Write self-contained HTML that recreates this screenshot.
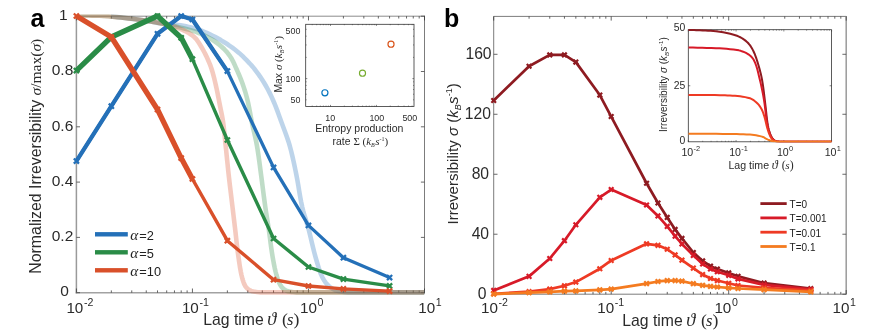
<!DOCTYPE html>
<html><head><meta charset="utf-8"><title>Irreversibility vs lag time</title>
<style>html,body{margin:0;padding:0;background:#fff}svg{display:block;will-change:transform}</style></head>
<body><svg width="873" height="333" viewBox="0 0 873 333">
<rect width="873" height="333" fill="#fff"/>
<g id="panelA">
<clipPath id="clipA"><rect x="76.40" y="14.40" width="348.10" height="280.50"/></clipPath>
<path d="M76.40 15.70 V293.40" stroke="#9a9a9a" stroke-width="1.5" fill="none"/>
<path d="M75.70 292.70 H424.80" stroke="#a2a2a2" stroke-width="1.4" fill="none"/>
<path d="M75.70 16.20 H424.80" stroke="#8c8c8c" stroke-width="1.0" fill="none"/>
<path d="M424.50 15.70 V293.40" stroke="#444" stroke-width="0.7" fill="none"/>
<path d="M76.40 292.70 v-4.20 M76.40 16.20 v4.20 M111.33 292.70 v-2.30 M111.33 16.20 v2.30 M131.76 292.70 v-2.30 M131.76 16.20 v2.30 M146.26 292.70 v-2.30 M146.26 16.20 v2.30 M157.50 292.70 v-2.30 M157.50 16.20 v2.30 M166.69 292.70 v-2.30 M166.69 16.20 v2.30 M174.46 292.70 v-2.30 M174.46 16.20 v2.30 M181.19 292.70 v-2.30 M181.19 16.20 v2.30 M187.12 292.70 v-2.30 M187.12 16.20 v2.30 M192.43 292.70 v-4.20 M192.43 16.20 v4.20 M227.36 292.70 v-2.30 M227.36 16.20 v2.30 M247.80 292.70 v-2.30 M247.80 16.20 v2.30 M262.29 292.70 v-2.30 M262.29 16.20 v2.30 M273.54 292.70 v-2.30 M273.54 16.20 v2.30 M282.72 292.70 v-2.30 M282.72 16.20 v2.30 M290.49 292.70 v-2.30 M290.49 16.20 v2.30 M297.22 292.70 v-2.30 M297.22 16.20 v2.30 M303.16 292.70 v-2.30 M303.16 16.20 v2.30 M308.47 292.70 v-4.20 M308.47 16.20 v4.20 M343.40 292.70 v-2.30 M343.40 16.20 v2.30 M363.83 292.70 v-2.30 M363.83 16.20 v2.30 M378.33 292.70 v-2.30 M378.33 16.20 v2.30 M389.57 292.70 v-2.30 M389.57 16.20 v2.30 M398.76 292.70 v-2.30 M398.76 16.20 v2.30 M406.53 292.70 v-2.30 M406.53 16.20 v2.30 M413.26 292.70 v-2.30 M413.26 16.20 v2.30 M419.19 292.70 v-2.30 M419.19 16.20 v2.30 M424.50 292.70 v-4.20 M424.50 16.20 v4.20 " stroke="#333" stroke-width="0.75" fill="none"/>
<path d="M76.40 292.70 h3.6 M424.50 292.70 h-3.6 M76.40 237.40 h3.6 M424.50 237.40 h-3.6 M76.40 182.10 h3.6 M424.50 182.10 h-3.6 M76.40 126.80 h3.6 M424.50 126.80 h-3.6 M76.40 71.50 h3.6 M424.50 71.50 h-3.6 M76.40 16.20 h3.6 M424.50 16.20 h-3.6 " stroke="#444" stroke-width="0.8" fill="none"/>
<g clip-path="url(#clipA)">
<path d="M111.00 16.20 L113.33 16.50 L115.67 16.80 L118.00 17.10 L120.33 17.40 L122.67 17.70 L125.00 18.00 L128.60 18.45 L132.21 18.90 L135.81 19.34 L139.41 19.79 L143.01 20.28 L146.60 20.80 L148.84 21.17 L151.07 21.60 L153.30 22.04 L155.53 22.47 L157.76 22.87 L160.00 23.20 L162.99 23.55 L165.99 23.83 L169.00 24.09 L172.01 24.35 L175.01 24.64 L178.00 25.00 L180.69 25.39 L183.38 25.84 L186.06 26.35 L188.73 26.92 L191.38 27.53 L194.00 28.20 L196.73 29.00 L199.43 29.93 L202.11 30.96 L204.77 32.06 L207.40 33.22 L210.00 34.40 L212.74 35.71 L215.46 37.10 L218.15 38.57 L220.81 40.10 L223.42 41.68 L226.00 43.30 L228.25 44.77 L230.47 46.30 L232.67 47.88 L234.83 49.51 L236.94 51.18 L239.00 52.90 L240.96 54.63 L242.88 56.43 L244.75 58.27 L246.60 60.16 L248.41 62.07 L250.20 64.00 L250.94 64.81 L251.68 65.63 L252.40 66.46 L253.12 67.29 L253.82 68.14 L254.50 69.00 L256.45 71.56 L258.37 74.17 L260.23 76.82 L262.02 79.51 L263.75 82.24 L265.40 85.00 L266.86 87.59 L268.27 90.22 L269.62 92.88 L270.93 95.57 L272.19 98.28 L273.40 101.00 L274.85 104.44 L276.23 107.92 L277.55 111.43 L278.85 114.95 L280.12 118.48 L281.40 122.00 L282.87 125.98 L284.37 129.95 L285.84 133.94 L287.26 137.93 L288.59 141.95 L289.80 146.00 L291.07 150.77 L292.25 155.59 L293.36 160.42 L294.40 165.28 L295.41 170.14 L296.40 175.00 L297.41 180.33 L298.33 185.68 L299.21 191.03 L300.11 196.38 L301.09 201.71 L302.20 207.00 L303.08 210.53 L304.08 214.03 L305.14 217.52 L306.23 221.00 L307.30 224.49 L308.30 228.00 L309.55 232.87 L310.73 237.77 L311.88 242.68 L313.04 247.58 L314.27 252.46 L315.60 257.30 L316.59 260.74 L317.58 264.21 L318.64 267.66 L319.78 271.06 L321.05 274.36 L322.50 277.50 L323.38 279.13 L324.39 280.78 L325.50 282.38 L326.69 283.90 L327.97 285.29 L329.30 286.50 L330.43 287.37 L331.66 288.22 L332.97 289.02 L334.33 289.72 L335.72 290.29 L337.10 290.70 L339.16 291.15 L341.28 291.55 L343.44 291.90 L345.63 292.16 L347.83 292.34 L350.00 292.40 L362.37 292.40 L374.77 292.40 L387.20 292.40 L399.64 292.40 L412.07 292.40 L424.50 292.40" fill="none" stroke="#2470B8" stroke-width="4.6" stroke-linejoin="round" stroke-linecap="butt" stroke-opacity="0.30"/>
<path d="M76.40 15.30 L80.33 15.38 L84.27 15.44 L88.21 15.51 L92.14 15.59 L96.07 15.68 L100.00 15.80 L104.17 16.00 L108.34 16.30 L112.51 16.68 L116.68 17.10 L120.84 17.55 L125.00 18.00 L128.61 18.40 L132.21 18.82 L135.82 19.28 L139.42 19.76 L143.01 20.27 L146.60 20.80 L148.84 21.16 L151.08 21.53 L153.31 21.93 L155.54 22.35 L157.77 22.77 L160.00 23.20 L163.01 23.79 L166.02 24.39 L169.02 25.01 L172.02 25.65 L175.01 26.31 L178.00 27.00 L180.69 27.63 L183.38 28.26 L186.07 28.92 L188.74 29.62 L191.39 30.38 L194.00 31.20 L196.75 32.17 L199.48 33.25 L202.19 34.42 L204.85 35.68 L207.46 37.01 L210.00 38.40 L212.30 39.77 L214.57 41.25 L216.80 42.82 L218.96 44.48 L221.03 46.21 L223.00 48.00 L224.47 49.46 L225.91 51.00 L227.30 52.61 L228.62 54.27 L229.86 55.97 L231.00 57.70 L232.04 59.48 L233.01 61.33 L233.93 63.22 L234.80 65.15 L235.65 67.08 L236.50 69.00 L237.66 71.63 L238.81 74.28 L239.93 76.93 L241.01 79.61 L242.04 82.29 L243.00 85.00 L243.88 87.63 L244.73 90.28 L245.54 92.94 L246.31 95.62 L247.03 98.31 L247.70 101.00 L248.47 104.47 L249.17 107.97 L249.83 111.47 L250.46 114.99 L251.11 118.50 L251.80 122.00 L252.66 126.00 L253.57 130.00 L254.50 133.99 L255.40 137.98 L256.25 141.98 L257.00 146.00 L257.79 150.81 L258.51 155.64 L259.18 160.47 L259.82 165.32 L260.45 170.16 L261.10 175.00 L261.81 180.33 L262.49 185.67 L263.17 191.01 L263.85 196.34 L264.56 201.67 L265.30 207.00 L265.82 210.50 L266.37 214.00 L266.94 217.50 L267.51 221.00 L268.06 224.50 L268.60 228.00 L269.29 232.88 L269.93 237.78 L270.55 242.68 L271.20 247.57 L271.90 252.44 L272.70 257.30 L273.34 260.91 L274.02 264.54 L274.76 268.16 L275.59 271.75 L276.52 275.27 L277.60 278.70 L278.20 280.36 L278.88 282.06 L279.65 283.75 L280.51 285.34 L281.46 286.78 L282.50 288.00 L283.27 288.69 L284.16 289.38 L285.15 290.01 L286.19 290.56 L287.25 291.00 L288.30 291.30 L289.84 291.60 L291.43 291.86 L293.06 292.08 L294.71 292.25 L296.36 292.36 L298.00 292.40 L319.02 292.40 L340.09 292.40 L361.19 292.40 L382.29 292.40 L403.40 292.40 L424.50 292.40" fill="none" stroke="#2A8C47" stroke-width="4.6" stroke-linejoin="round" stroke-linecap="butt" stroke-opacity="0.30"/>
<path d="M76.40 15.30 L80.33 15.38 L84.27 15.44 L88.21 15.51 L92.14 15.59 L96.07 15.68 L100.00 15.80 L104.17 16.00 L108.34 16.30 L112.51 16.68 L116.68 17.10 L120.84 17.55 L125.00 18.00 L128.61 18.40 L132.21 18.82 L135.82 19.28 L139.42 19.76 L143.01 20.27 L146.60 20.80 L148.84 21.15 L151.08 21.52 L153.32 21.90 L155.55 22.31 L157.78 22.74 L160.00 23.20 L163.04 23.86 L166.09 24.55 L169.13 25.30 L172.14 26.11 L175.11 27.01 L178.00 28.00 L180.83 29.10 L183.70 30.36 L186.52 31.77 L189.22 33.32 L191.74 35.00 L194.00 36.80 L195.53 38.33 L196.97 40.08 L198.32 41.99 L199.60 43.98 L200.82 46.01 L202.00 48.00 L203.20 50.09 L204.35 52.22 L205.45 54.39 L206.51 56.58 L207.52 58.78 L208.50 61.00 L209.06 62.31 L209.62 63.63 L210.15 64.96 L210.67 66.30 L211.15 67.65 L211.60 69.00 L212.55 72.15 L213.44 75.33 L214.26 78.53 L215.03 81.75 L215.78 84.98 L216.50 88.20 L217.08 90.87 L217.62 93.55 L218.15 96.24 L218.67 98.92 L219.18 101.61 L219.70 104.30 L220.29 107.25 L220.91 110.19 L221.52 113.14 L222.10 116.08 L222.64 119.04 L223.10 122.00 L223.62 125.98 L224.08 129.98 L224.50 133.98 L224.90 137.99 L225.29 142.00 L225.70 146.00 L226.20 150.83 L226.70 155.67 L227.18 160.50 L227.68 165.34 L228.18 170.17 L228.70 175.00 L229.30 180.34 L229.93 185.67 L230.57 191.00 L231.21 196.34 L231.86 201.67 L232.50 207.00 L232.92 210.50 L233.33 214.00 L233.75 217.50 L234.17 221.00 L234.58 224.50 L235.00 228.00 L235.57 232.89 L236.11 237.78 L236.65 242.67 L237.22 247.55 L237.83 252.43 L238.50 257.30 L239.02 260.90 L239.55 264.51 L240.13 268.12 L240.78 271.70 L241.53 275.24 L242.40 278.70 L242.86 280.26 L243.39 281.85 L243.99 283.44 L244.68 284.95 L245.45 286.32 L246.30 287.50 L247.04 288.28 L247.94 289.04 L248.94 289.75 L250.02 290.37 L251.12 290.87 L252.20 291.20 L253.74 291.52 L255.34 291.81 L256.99 292.05 L258.67 292.24 L260.34 292.36 L262.00 292.40 L288.99 292.40 L316.05 292.40 L343.15 292.40 L370.28 292.40 L397.40 292.40 L424.50 292.40" fill="none" stroke="#D9502A" stroke-width="4.6" stroke-linejoin="round" stroke-linecap="butt" stroke-opacity="0.30"/>
</g>
<path d="M76.40 161.10 L111.33 106.20 L157.50 33.80 L181.19 16.00 L192.43 19.50 L227.36 71.10 L273.54 167.40 L308.47 225.40 L343.40 257.70 L389.57 277.60" fill="none" stroke="#2470B8" stroke-width="3.3" stroke-linejoin="round" stroke-linecap="butt" />
<path d="M76.40 161.10 L111.33 106.20 L157.50 33.80 L181.19 16.00 L192.43 19.50 L227.36 71.10" fill="none" stroke="#2470B8" stroke-width="4.2" stroke-linejoin="round" stroke-linecap="butt" />
<path d="M73.85 158.55 L78.95 163.65 M73.85 163.65 L78.95 158.55" stroke="#2470B8" stroke-width="2.3" fill="none"/>
<path d="M108.78 103.65 L113.88 108.75 M108.78 108.75 L113.88 103.65" stroke="#2470B8" stroke-width="2.3" fill="none"/>
<path d="M154.95 31.25 L160.05 36.35 M154.95 36.35 L160.05 31.25" stroke="#2470B8" stroke-width="2.3" fill="none"/>
<path d="M178.64 13.45 L183.74 18.55 M178.64 18.55 L183.74 13.45" stroke="#2470B8" stroke-width="2.3" fill="none"/>
<path d="M189.88 16.95 L194.98 22.05 M189.88 22.05 L194.98 16.95" stroke="#2470B8" stroke-width="2.3" fill="none"/>
<path d="M224.81 68.55 L229.91 73.65 M224.81 73.65 L229.91 68.55" stroke="#2470B8" stroke-width="2.3" fill="none"/>
<path d="M270.99 164.85 L276.09 169.95 M270.99 169.95 L276.09 164.85" stroke="#2470B8" stroke-width="2.3" fill="none"/>
<path d="M305.92 222.85 L311.02 227.95 M305.92 227.95 L311.02 222.85" stroke="#2470B8" stroke-width="2.3" fill="none"/>
<path d="M340.85 255.15 L345.95 260.25 M340.85 260.25 L345.95 255.15" stroke="#2470B8" stroke-width="2.3" fill="none"/>
<path d="M387.02 275.05 L392.12 280.15 M387.02 280.15 L392.12 275.05" stroke="#2470B8" stroke-width="2.3" fill="none"/>
<path d="M76.40 70.60 L111.33 37.00 L157.50 16.00 L181.19 37.80 L192.43 59.20 L227.36 140.00 L273.54 238.50 L308.47 267.00 L343.40 279.10 L389.57 285.90" fill="none" stroke="#2A8C47" stroke-width="3.4" stroke-linejoin="round" stroke-linecap="butt" />
<path d="M76.40 70.60 L111.33 37.00 L157.50 16.00 L181.19 37.80 L192.43 59.20" fill="none" stroke="#2A8C47" stroke-width="5.3" stroke-linejoin="round" stroke-linecap="butt" />
<path d="M73.85 68.05 L78.95 73.15 M73.85 73.15 L78.95 68.05" stroke="#2A8C47" stroke-width="2.3" fill="none"/>
<path d="M108.78 34.45 L113.88 39.55 M108.78 39.55 L113.88 34.45" stroke="#2A8C47" stroke-width="2.3" fill="none"/>
<path d="M154.95 13.45 L160.05 18.55 M154.95 18.55 L160.05 13.45" stroke="#2A8C47" stroke-width="2.3" fill="none"/>
<path d="M178.64 35.25 L183.74 40.35 M178.64 40.35 L183.74 35.25" stroke="#2A8C47" stroke-width="2.3" fill="none"/>
<path d="M189.88 56.65 L194.98 61.75 M189.88 61.75 L194.98 56.65" stroke="#2A8C47" stroke-width="2.3" fill="none"/>
<path d="M224.81 137.45 L229.91 142.55 M224.81 142.55 L229.91 137.45" stroke="#2A8C47" stroke-width="2.3" fill="none"/>
<path d="M270.99 235.95 L276.09 241.05 M270.99 241.05 L276.09 235.95" stroke="#2A8C47" stroke-width="2.3" fill="none"/>
<path d="M305.92 264.45 L311.02 269.55 M305.92 269.55 L311.02 264.45" stroke="#2A8C47" stroke-width="2.3" fill="none"/>
<path d="M340.85 276.55 L345.95 281.65 M340.85 281.65 L345.95 276.55" stroke="#2A8C47" stroke-width="2.3" fill="none"/>
<path d="M387.02 283.35 L392.12 288.45 M387.02 288.45 L392.12 283.35" stroke="#2A8C47" stroke-width="2.3" fill="none"/>
<path d="M76.40 16.00 L111.33 37.00 L157.50 109.50 L181.19 158.10 L192.43 179.00 L227.36 240.70 L273.54 279.70 L308.47 286.00 L343.40 288.90 L389.57 291.10" fill="none" stroke="#D9502A" stroke-width="3.4" stroke-linejoin="round" stroke-linecap="butt" />
<path d="M76.40 16.00 L111.33 37.00 L157.50 109.50 L181.19 158.10 L192.43 179.00" fill="none" stroke="#D9502A" stroke-width="5.3" stroke-linejoin="round" stroke-linecap="butt" />
<path d="M73.85 13.45 L78.95 18.55 M73.85 18.55 L78.95 13.45" stroke="#D9502A" stroke-width="2.3" fill="none"/>
<path d="M108.78 34.45 L113.88 39.55 M108.78 39.55 L113.88 34.45" stroke="#D9502A" stroke-width="2.3" fill="none"/>
<path d="M154.95 106.95 L160.05 112.05 M154.95 112.05 L160.05 106.95" stroke="#D9502A" stroke-width="2.3" fill="none"/>
<path d="M178.64 155.55 L183.74 160.65 M178.64 160.65 L183.74 155.55" stroke="#D9502A" stroke-width="2.3" fill="none"/>
<path d="M189.88 176.45 L194.98 181.55 M189.88 181.55 L194.98 176.45" stroke="#D9502A" stroke-width="2.3" fill="none"/>
<path d="M224.81 238.15 L229.91 243.25 M224.81 243.25 L229.91 238.15" stroke="#D9502A" stroke-width="2.3" fill="none"/>
<path d="M270.99 277.15 L276.09 282.25 M270.99 282.25 L276.09 277.15" stroke="#D9502A" stroke-width="2.3" fill="none"/>
<path d="M305.92 283.45 L311.02 288.55 M305.92 288.55 L311.02 283.45" stroke="#D9502A" stroke-width="2.3" fill="none"/>
<path d="M340.85 286.35 L345.95 291.45 M340.85 291.45 L345.95 286.35" stroke="#D9502A" stroke-width="2.3" fill="none"/>
<path d="M387.02 288.55 L392.12 293.65 M387.02 293.65 L392.12 288.55" stroke="#D9502A" stroke-width="2.3" fill="none"/>
<rect x="95" y="232.10" width="32.8" height="4.4" fill="#2470B8"/>
<text x="130.2" y="239.50" font-size="12.8" fill="#222" font-family='"Liberation Sans", Arial, sans-serif'><tspan font-family='"Liberation Serif", "Times New Roman", serif' font-style="italic" font-size="15.2">α</tspan><tspan x="139.3">=2</tspan></text>
<rect x="95" y="250.10" width="32.8" height="4.4" fill="#2A8C47"/>
<text x="130.2" y="257.50" font-size="12.8" fill="#222" font-family='"Liberation Sans", Arial, sans-serif'><tspan font-family='"Liberation Serif", "Times New Roman", serif' font-style="italic" font-size="15.2">α</tspan><tspan x="139.3">=5</tspan></text>
<rect x="95" y="268.10" width="32.8" height="4.4" fill="#D9502A"/>
<text x="130.2" y="275.50" font-size="12.8" fill="#222" font-family='"Liberation Sans", Arial, sans-serif'><tspan font-family='"Liberation Serif", "Times New Roman", serif' font-style="italic" font-size="15.2">α</tspan><tspan x="139.3">=10</tspan></text>
<text x="68.90" y="296.40" text-anchor="end" font-size="15.5" fill="#2b2b2b" font-family='"Liberation Sans", Arial, sans-serif'>0</text>
<text x="73.30" y="241.10" text-anchor="end" font-size="15.5" fill="#2b2b2b" font-family='"Liberation Sans", Arial, sans-serif'>0.2</text>
<text x="73.30" y="185.80" text-anchor="end" font-size="15.5" fill="#2b2b2b" font-family='"Liberation Sans", Arial, sans-serif'>0.4</text>
<text x="73.30" y="130.50" text-anchor="end" font-size="15.5" fill="#2b2b2b" font-family='"Liberation Sans", Arial, sans-serif'>0.6</text>
<text x="73.30" y="75.20" text-anchor="end" font-size="15.5" fill="#2b2b2b" font-family='"Liberation Sans", Arial, sans-serif'>0.8</text>
<text x="67.60" y="19.90" text-anchor="end" font-size="15.5" fill="#2b2b2b" font-family='"Liberation Sans", Arial, sans-serif'>1</text>
<text x="66.40" y="312.5" font-size="15.2" fill="#2b2b2b" font-family='"Liberation Sans", Arial, sans-serif'>10<tspan dy="-6.6" dx="0.6" font-size="10.6">-2</tspan></text>
<text x="181.90" y="312.5" font-size="15.2" fill="#2b2b2b" font-family='"Liberation Sans", Arial, sans-serif'>10<tspan dy="-6.6" dx="0.6" font-size="10.6">-1</tspan></text>
<text x="300.00" y="312.5" font-size="15.2" fill="#2b2b2b" font-family='"Liberation Sans", Arial, sans-serif'>10<tspan dy="-6.6" dx="0.6" font-size="10.6">0</tspan></text>
<text x="418.30" y="312.5" font-size="15.2" fill="#2b2b2b" font-family='"Liberation Sans", Arial, sans-serif'>10<tspan dy="-6.6" dx="0.6" font-size="10.6">1</tspan></text>
<text x="203.30" y="325.10" font-size="15.75" fill="#2b2b2b" font-family='"Liberation Sans", Arial, sans-serif'>Lag time<tspan x="267.20" font-family='"Liberation Serif", "Times New Roman", serif' font-style="italic" font-size="18.43">ϑ</tspan><tspan x="281.90" font-family='"Liberation Serif", "Times New Roman", serif' font-size="17.64">(</tspan><tspan x="287.10" font-family='"Liberation Serif", "Times New Roman", serif' font-style="italic" font-size="16.54">s</tspan><tspan x="293.50" font-family='"Liberation Serif", "Times New Roman", serif' font-size="17.64">)</tspan></text>
<text transform="translate(41.4 273.8) rotate(-90)" font-size="15.9" fill="#2b2b2b" font-family='"Liberation Sans", Arial, sans-serif'>Normalized Irreversibility <tspan font-family='"Liberation Serif", "Times New Roman", serif' font-size="15.5"><tspan font-style="italic">σ</tspan>/max(<tspan font-style="italic">σ</tspan>)</tspan></text>
<text x="30.6" y="26.7" font-size="25" font-weight="bold" fill="#000" font-family='"Liberation Sans", Arial, sans-serif'>a</text>
<rect x="305.70" y="24.30" width="108.30" height="82.20" fill="#fff" stroke="#333" stroke-width="0.8"/>
<path d="M312.23 106.50 v-0.90 M312.23 24.30 v0.90 M316.68 106.50 v-0.90 M316.68 24.30 v0.90 M320.32 106.50 v-0.90 M320.32 24.30 v0.90 M323.39 106.50 v-0.90 M323.39 24.30 v0.90 M326.05 106.50 v-0.90 M326.05 24.30 v0.90 M328.40 106.50 v-0.90 M328.40 24.30 v0.90 M330.50 106.50 v-1.60 M330.50 24.30 v1.60 M344.32 106.50 v-0.90 M344.32 24.30 v0.90 M352.40 106.50 v-0.90 M352.40 24.30 v0.90 M358.13 106.50 v-0.90 M358.13 24.30 v0.90 M362.58 106.50 v-0.90 M362.58 24.30 v0.90 M366.22 106.50 v-0.90 M366.22 24.30 v0.90 M369.29 106.50 v-0.90 M369.29 24.30 v0.90 M371.95 106.50 v-0.90 M371.95 24.30 v0.90 M374.30 106.50 v-0.90 M374.30 24.30 v0.90 M376.40 106.50 v-1.60 M376.40 24.30 v1.60 M390.22 106.50 v-0.90 M390.22 24.30 v0.90 M398.30 106.50 v-0.90 M398.30 24.30 v0.90 M404.03 106.50 v-0.90 M404.03 24.30 v0.90 M408.48 106.50 v-0.90 M408.48 24.30 v0.90 M412.12 106.50 v-0.90 M412.12 24.30 v0.90 M305.70 99.82 h0.90 M414.00 99.82 h-0.90 M305.70 94.24 h0.90 M414.00 94.24 h-0.90 M305.70 89.52 h0.90 M414.00 89.52 h-0.90 M305.70 85.43 h0.90 M414.00 85.43 h-0.90 M305.70 81.83 h0.90 M414.00 81.83 h-0.90 M305.70 78.60 h1.60 M414.00 78.60 h-1.60 M305.70 57.38 h0.90 M414.00 57.38 h-0.90 M305.70 44.96 h0.90 M414.00 44.96 h-0.90 M305.70 36.15 h0.90 M414.00 36.15 h-0.90 M305.70 29.32 h0.90 M414.00 29.32 h-0.90 " stroke="#333" stroke-width="0.6" fill="none"/>
<text x="300.4" y="103.40" text-anchor="end" font-size="8.9" fill="#2b2b2b" font-family='"Liberation Sans", Arial, sans-serif'>50</text>
<text x="300.4" y="82.00" text-anchor="end" font-size="8.9" fill="#2b2b2b" font-family='"Liberation Sans", Arial, sans-serif'>100</text>
<text x="300.4" y="34.00" text-anchor="end" font-size="8.9" fill="#2b2b2b" font-family='"Liberation Sans", Arial, sans-serif'>500</text>
<text x="330.20" y="120.6" text-anchor="middle" font-size="8.9" fill="#2b2b2b" font-family='"Liberation Sans", Arial, sans-serif'>10</text>
<text x="376.80" y="120.6" text-anchor="middle" font-size="8.9" fill="#2b2b2b" font-family='"Liberation Sans", Arial, sans-serif'>100</text>
<text x="409.80" y="120.6" text-anchor="middle" font-size="8.9" fill="#2b2b2b" font-family='"Liberation Sans", Arial, sans-serif'>500</text>
<text x="359.3" y="131.8" text-anchor="middle" font-size="10.5" fill="#2b2b2b" font-family='"Liberation Sans", Arial, sans-serif'>Entropy production</text>
<text x="332.6" y="144.6" font-size="10.4" fill="#2b2b2b" font-family='"Liberation Sans", Arial, sans-serif'>rate <tspan font-family='"Liberation Serif", "Times New Roman", serif' font-size="11">Σ (<tspan font-style="italic">k</tspan><tspan font-style="italic" font-size="6" dy="2">B</tspan><tspan font-style="italic" dy="-2" dx="0.5">s</tspan><tspan font-size="6" dy="-4">-1</tspan><tspan dy="4">)</tspan></tspan></text>
<text transform="translate(282.4 92.6) rotate(-90)" font-size="10.4" fill="#2b2b2b" font-family='"Liberation Sans", Arial, sans-serif'>Max <tspan font-family='"Liberation Serif", "Times New Roman", serif' font-size="11"><tspan font-style="italic">σ</tspan> (<tspan font-style="italic">k</tspan><tspan font-style="italic" font-size="6" dy="2">B</tspan><tspan font-style="italic" dy="-2" dx="0.5">s</tspan><tspan font-size="6" dy="-4">-1</tspan><tspan dy="4">)</tspan></tspan></text>
<circle cx="324.90" cy="92.80" r="3.05" fill="none" stroke="#0072BD" stroke-width="1.15"/>
<circle cx="362.50" cy="73.20" r="3.05" fill="none" stroke="#77AC30" stroke-width="1.15"/>
<circle cx="391.00" cy="44.20" r="3.05" fill="none" stroke="#D95319" stroke-width="1.15"/>
</g>
<g id="panelB">
<path d="M846.20 16.40 H493.70 V294.20 H846.20" stroke="#444" stroke-width="0.7" fill="none"/>
<path d="M846.20 16.00 V294.60" stroke="#9a9a9a" stroke-width="1.5" fill="none"/>
<path d="M493.70 294.20 v-4.20 M493.70 16.40 v4.20 M529.07 294.20 v-2.30 M529.07 16.40 v2.30 M549.76 294.20 v-2.30 M549.76 16.40 v2.30 M564.44 294.20 v-2.30 M564.44 16.40 v2.30 M575.83 294.20 v-2.30 M575.83 16.40 v2.30 M585.13 294.20 v-2.30 M585.13 16.40 v2.30 M593.00 294.20 v-2.30 M593.00 16.40 v2.30 M599.81 294.20 v-2.30 M599.81 16.40 v2.30 M605.82 294.20 v-2.30 M605.82 16.40 v2.30 M611.20 294.20 v-4.20 M611.20 16.40 v4.20 M646.57 294.20 v-2.30 M646.57 16.40 v2.30 M667.26 294.20 v-2.30 M667.26 16.40 v2.30 M681.94 294.20 v-2.30 M681.94 16.40 v2.30 M693.33 294.20 v-2.30 M693.33 16.40 v2.30 M702.63 294.20 v-2.30 M702.63 16.40 v2.30 M710.50 294.20 v-2.30 M710.50 16.40 v2.30 M717.31 294.20 v-2.30 M717.31 16.40 v2.30 M723.32 294.20 v-2.30 M723.32 16.40 v2.30 M728.70 294.20 v-4.20 M728.70 16.40 v4.20 M764.07 294.20 v-2.30 M764.07 16.40 v2.30 M784.76 294.20 v-2.30 M784.76 16.40 v2.30 M799.44 294.20 v-2.30 M799.44 16.40 v2.30 M810.83 294.20 v-2.30 M810.83 16.40 v2.30 M820.13 294.20 v-2.30 M820.13 16.40 v2.30 M828.00 294.20 v-2.30 M828.00 16.40 v2.30 M834.81 294.20 v-2.30 M834.81 16.40 v2.30 M840.82 294.20 v-2.30 M840.82 16.40 v2.30 M846.20 294.20 v-4.20 M846.20 16.40 v4.20 " stroke="#333" stroke-width="0.75" fill="none"/>
<path d="M493.70 294.20 h3.8 M846.20 294.20 h-3.8 M493.70 234.22 h3.8 M846.20 234.22 h-3.8 M493.70 174.25 h3.8 M846.20 174.25 h-3.8 M493.70 114.27 h3.8 M846.20 114.27 h-3.8 M493.70 54.30 h3.8 M846.20 54.30 h-3.8 " stroke="#444" stroke-width="0.8" fill="none"/>
<path d="M493.70 100.48 L529.07 66.29 L549.76 54.90 L564.44 54.90 L575.83 62.10 L599.81 95.08 L611.20 116.52 L646.57 183.25 L657.96 203.04 L667.26 217.43 L675.13 229.43 L681.94 238.42 L693.33 252.52 L702.63 260.91 L710.50 266.16 L717.31 269.01 L728.70 272.91 L738.00 276.21 L764.07 283.10 L810.83 288.65" fill="none" stroke="#8E1B21" stroke-width="2.7" stroke-linejoin="round" stroke-linecap="butt" />
<path d="M491.40 98.18 L496.00 102.78 M491.40 102.78 L496.00 98.18" stroke="#8E1B21" stroke-width="2.2" fill="none"/>
<path d="M526.77 63.99 L531.37 68.59 M526.77 68.59 L531.37 63.99" stroke="#8E1B21" stroke-width="2.2" fill="none"/>
<path d="M547.46 52.60 L552.06 57.20 M547.46 57.20 L552.06 52.60" stroke="#8E1B21" stroke-width="2.2" fill="none"/>
<path d="M562.14 52.60 L566.74 57.20 M562.14 57.20 L566.74 52.60" stroke="#8E1B21" stroke-width="2.2" fill="none"/>
<path d="M573.53 59.80 L578.13 64.40 M573.53 64.40 L578.13 59.80" stroke="#8E1B21" stroke-width="2.2" fill="none"/>
<path d="M597.51 92.78 L602.11 97.38 M597.51 97.38 L602.11 92.78" stroke="#8E1B21" stroke-width="2.2" fill="none"/>
<path d="M608.90 114.22 L613.50 118.82 M608.90 118.82 L613.50 114.22" stroke="#8E1B21" stroke-width="2.2" fill="none"/>
<path d="M644.27 180.95 L648.87 185.55 M644.27 185.55 L648.87 180.95" stroke="#8E1B21" stroke-width="2.2" fill="none"/>
<path d="M655.66 200.74 L660.26 205.34 M655.66 205.34 L660.26 200.74" stroke="#8E1B21" stroke-width="2.2" fill="none"/>
<path d="M664.96 215.13 L669.56 219.73 M664.96 219.73 L669.56 215.13" stroke="#8E1B21" stroke-width="2.2" fill="none"/>
<path d="M672.83 227.13 L677.43 231.73 M672.83 231.73 L677.43 227.13" stroke="#8E1B21" stroke-width="2.2" fill="none"/>
<path d="M679.64 236.12 L684.24 240.72 M679.64 240.72 L684.24 236.12" stroke="#8E1B21" stroke-width="2.2" fill="none"/>
<path d="M691.03 250.22 L695.63 254.82 M691.03 254.82 L695.63 250.22" stroke="#8E1B21" stroke-width="2.2" fill="none"/>
<path d="M700.33 258.61 L704.93 263.21 M700.33 263.21 L704.93 258.61" stroke="#8E1B21" stroke-width="2.2" fill="none"/>
<path d="M708.20 263.86 L712.80 268.46 M708.20 268.46 L712.80 263.86" stroke="#8E1B21" stroke-width="2.2" fill="none"/>
<path d="M715.01 266.71 L719.61 271.31 M715.01 271.31 L719.61 266.71" stroke="#8E1B21" stroke-width="2.2" fill="none"/>
<path d="M726.40 270.61 L731.00 275.21 M726.40 275.21 L731.00 270.61" stroke="#8E1B21" stroke-width="2.2" fill="none"/>
<path d="M735.70 273.91 L740.30 278.51 M735.70 278.51 L740.30 273.91" stroke="#8E1B21" stroke-width="2.2" fill="none"/>
<path d="M761.77 280.80 L766.37 285.40 M761.77 285.40 L766.37 280.80" stroke="#8E1B21" stroke-width="2.2" fill="none"/>
<path d="M808.53 286.35 L813.13 290.95 M808.53 290.95 L813.13 286.35" stroke="#8E1B21" stroke-width="2.2" fill="none"/>
<path d="M493.70 290.45 L529.07 276.36 L549.76 258.51 L564.44 240.67 L575.83 224.78 L599.81 197.34 L611.20 189.54 L646.57 204.99 L657.96 215.93 L667.26 226.43 L675.13 236.17 L681.94 243.97 L693.33 255.37 L702.63 263.91 L710.50 269.01 L717.31 271.71 L728.70 275.31 L738.00 278.91 L764.07 284.90 L810.83 289.40" fill="none" stroke="#D71A28" stroke-width="2.7" stroke-linejoin="round" stroke-linecap="butt" />
<path d="M491.40 288.15 L496.00 292.75 M491.40 292.75 L496.00 288.15" stroke="#D71A28" stroke-width="2.2" fill="none"/>
<path d="M526.77 274.06 L531.37 278.66 M526.77 278.66 L531.37 274.06" stroke="#D71A28" stroke-width="2.2" fill="none"/>
<path d="M547.46 256.21 L552.06 260.81 M547.46 260.81 L552.06 256.21" stroke="#D71A28" stroke-width="2.2" fill="none"/>
<path d="M562.14 238.37 L566.74 242.97 M562.14 242.97 L566.74 238.37" stroke="#D71A28" stroke-width="2.2" fill="none"/>
<path d="M573.53 222.48 L578.13 227.08 M573.53 227.08 L578.13 222.48" stroke="#D71A28" stroke-width="2.2" fill="none"/>
<path d="M597.51 195.04 L602.11 199.64 M597.51 199.64 L602.11 195.04" stroke="#D71A28" stroke-width="2.2" fill="none"/>
<path d="M608.90 187.24 L613.50 191.84 M608.90 191.84 L613.50 187.24" stroke="#D71A28" stroke-width="2.2" fill="none"/>
<path d="M644.27 202.69 L648.87 207.29 M644.27 207.29 L648.87 202.69" stroke="#D71A28" stroke-width="2.2" fill="none"/>
<path d="M655.66 213.63 L660.26 218.23 M655.66 218.23 L660.26 213.63" stroke="#D71A28" stroke-width="2.2" fill="none"/>
<path d="M664.96 224.13 L669.56 228.73 M664.96 228.73 L669.56 224.13" stroke="#D71A28" stroke-width="2.2" fill="none"/>
<path d="M672.83 233.87 L677.43 238.47 M672.83 238.47 L677.43 233.87" stroke="#D71A28" stroke-width="2.2" fill="none"/>
<path d="M679.64 241.67 L684.24 246.27 M679.64 246.27 L684.24 241.67" stroke="#D71A28" stroke-width="2.2" fill="none"/>
<path d="M691.03 253.07 L695.63 257.67 M691.03 257.67 L695.63 253.07" stroke="#D71A28" stroke-width="2.2" fill="none"/>
<path d="M700.33 261.61 L704.93 266.21 M700.33 266.21 L704.93 261.61" stroke="#D71A28" stroke-width="2.2" fill="none"/>
<path d="M708.20 266.71 L712.80 271.31 M708.20 271.31 L712.80 266.71" stroke="#D71A28" stroke-width="2.2" fill="none"/>
<path d="M715.01 269.41 L719.61 274.01 M715.01 274.01 L719.61 269.41" stroke="#D71A28" stroke-width="2.2" fill="none"/>
<path d="M726.40 273.01 L731.00 277.61 M726.40 277.61 L731.00 273.01" stroke="#D71A28" stroke-width="2.2" fill="none"/>
<path d="M735.70 276.61 L740.30 281.21 M735.70 281.21 L740.30 276.61" stroke="#D71A28" stroke-width="2.2" fill="none"/>
<path d="M761.77 282.60 L766.37 287.20 M761.77 287.20 L766.37 282.60" stroke="#D71A28" stroke-width="2.2" fill="none"/>
<path d="M808.53 287.10 L813.13 291.70 M808.53 291.70 L813.13 287.10" stroke="#D71A28" stroke-width="2.2" fill="none"/>
<path d="M493.70 293.75 L529.07 291.65 L549.76 289.10 L564.44 285.80 L575.83 282.06 L599.81 268.71 L611.20 260.46 L646.57 243.82 L657.96 245.32 L667.26 249.22 L675.13 254.92 L681.94 260.16 L693.33 268.11 L702.63 274.56 L710.50 278.46 L717.31 280.56 L728.70 283.25 L738.00 285.50 L764.07 287.75 L810.83 290.45" fill="none" stroke="#EE3A24" stroke-width="2.7" stroke-linejoin="round" stroke-linecap="butt" />
<path d="M491.40 291.45 L496.00 296.05 M491.40 296.05 L496.00 291.45" stroke="#EE3A24" stroke-width="2.2" fill="none"/>
<path d="M526.77 289.35 L531.37 293.95 M526.77 293.95 L531.37 289.35" stroke="#EE3A24" stroke-width="2.2" fill="none"/>
<path d="M547.46 286.80 L552.06 291.40 M547.46 291.40 L552.06 286.80" stroke="#EE3A24" stroke-width="2.2" fill="none"/>
<path d="M562.14 283.50 L566.74 288.10 M562.14 288.10 L566.74 283.50" stroke="#EE3A24" stroke-width="2.2" fill="none"/>
<path d="M573.53 279.76 L578.13 284.36 M573.53 284.36 L578.13 279.76" stroke="#EE3A24" stroke-width="2.2" fill="none"/>
<path d="M597.51 266.41 L602.11 271.01 M597.51 271.01 L602.11 266.41" stroke="#EE3A24" stroke-width="2.2" fill="none"/>
<path d="M608.90 258.16 L613.50 262.76 M608.90 262.76 L613.50 258.16" stroke="#EE3A24" stroke-width="2.2" fill="none"/>
<path d="M644.27 241.52 L648.87 246.12 M644.27 246.12 L648.87 241.52" stroke="#EE3A24" stroke-width="2.2" fill="none"/>
<path d="M655.66 243.02 L660.26 247.62 M655.66 247.62 L660.26 243.02" stroke="#EE3A24" stroke-width="2.2" fill="none"/>
<path d="M664.96 246.92 L669.56 251.52 M664.96 251.52 L669.56 246.92" stroke="#EE3A24" stroke-width="2.2" fill="none"/>
<path d="M672.83 252.62 L677.43 257.22 M672.83 257.22 L677.43 252.62" stroke="#EE3A24" stroke-width="2.2" fill="none"/>
<path d="M679.64 257.86 L684.24 262.46 M679.64 262.46 L684.24 257.86" stroke="#EE3A24" stroke-width="2.2" fill="none"/>
<path d="M691.03 265.81 L695.63 270.41 M691.03 270.41 L695.63 265.81" stroke="#EE3A24" stroke-width="2.2" fill="none"/>
<path d="M700.33 272.26 L704.93 276.86 M700.33 276.86 L704.93 272.26" stroke="#EE3A24" stroke-width="2.2" fill="none"/>
<path d="M708.20 276.16 L712.80 280.76 M708.20 280.76 L712.80 276.16" stroke="#EE3A24" stroke-width="2.2" fill="none"/>
<path d="M715.01 278.26 L719.61 282.86 M715.01 282.86 L719.61 278.26" stroke="#EE3A24" stroke-width="2.2" fill="none"/>
<path d="M726.40 280.95 L731.00 285.55 M726.40 285.55 L731.00 280.95" stroke="#EE3A24" stroke-width="2.2" fill="none"/>
<path d="M735.70 283.20 L740.30 287.80 M735.70 287.80 L740.30 283.20" stroke="#EE3A24" stroke-width="2.2" fill="none"/>
<path d="M761.77 285.45 L766.37 290.05 M761.77 290.05 L766.37 285.45" stroke="#EE3A24" stroke-width="2.2" fill="none"/>
<path d="M808.53 288.15 L813.13 292.75 M808.53 292.75 L813.13 288.15" stroke="#EE3A24" stroke-width="2.2" fill="none"/>
<path d="M493.70 294.05 L529.07 292.70 L549.76 291.80 L564.44 291.20 L575.83 290.90 L599.81 289.85 L611.20 289.10 L646.57 283.55 L657.96 281.46 L667.26 280.56 L675.13 280.56 L681.94 281.16 L693.33 283.70 L702.63 285.35 L710.50 286.40 L717.31 287.00 L728.70 287.90 L738.00 288.50 L764.07 289.70 L810.83 291.80" fill="none" stroke="#F47B20" stroke-width="2.7" stroke-linejoin="round" stroke-linecap="butt" />
<path d="M491.40 291.75 L496.00 296.35 M491.40 296.35 L496.00 291.75" stroke="#F47B20" stroke-width="2.2" fill="none"/>
<path d="M526.77 290.40 L531.37 295.00 M526.77 295.00 L531.37 290.40" stroke="#F47B20" stroke-width="2.2" fill="none"/>
<path d="M547.46 289.50 L552.06 294.10 M547.46 294.10 L552.06 289.50" stroke="#F47B20" stroke-width="2.2" fill="none"/>
<path d="M562.14 288.90 L566.74 293.50 M562.14 293.50 L566.74 288.90" stroke="#F47B20" stroke-width="2.2" fill="none"/>
<path d="M573.53 288.60 L578.13 293.20 M573.53 293.20 L578.13 288.60" stroke="#F47B20" stroke-width="2.2" fill="none"/>
<path d="M597.51 287.55 L602.11 292.15 M597.51 292.15 L602.11 287.55" stroke="#F47B20" stroke-width="2.2" fill="none"/>
<path d="M608.90 286.80 L613.50 291.40 M608.90 291.40 L613.50 286.80" stroke="#F47B20" stroke-width="2.2" fill="none"/>
<path d="M644.27 281.25 L648.87 285.85 M644.27 285.85 L648.87 281.25" stroke="#F47B20" stroke-width="2.2" fill="none"/>
<path d="M655.66 279.16 L660.26 283.76 M655.66 283.76 L660.26 279.16" stroke="#F47B20" stroke-width="2.2" fill="none"/>
<path d="M664.96 278.26 L669.56 282.86 M664.96 282.86 L669.56 278.26" stroke="#F47B20" stroke-width="2.2" fill="none"/>
<path d="M672.83 278.26 L677.43 282.86 M672.83 282.86 L677.43 278.26" stroke="#F47B20" stroke-width="2.2" fill="none"/>
<path d="M679.64 278.86 L684.24 283.46 M679.64 283.46 L684.24 278.86" stroke="#F47B20" stroke-width="2.2" fill="none"/>
<path d="M691.03 281.40 L695.63 286.00 M691.03 286.00 L695.63 281.40" stroke="#F47B20" stroke-width="2.2" fill="none"/>
<path d="M700.33 283.05 L704.93 287.65 M700.33 287.65 L704.93 283.05" stroke="#F47B20" stroke-width="2.2" fill="none"/>
<path d="M708.20 284.10 L712.80 288.70 M708.20 288.70 L712.80 284.10" stroke="#F47B20" stroke-width="2.2" fill="none"/>
<path d="M715.01 284.70 L719.61 289.30 M715.01 289.30 L719.61 284.70" stroke="#F47B20" stroke-width="2.2" fill="none"/>
<path d="M726.40 285.60 L731.00 290.20 M726.40 290.20 L731.00 285.60" stroke="#F47B20" stroke-width="2.2" fill="none"/>
<path d="M735.70 286.20 L740.30 290.80 M735.70 290.80 L740.30 286.20" stroke="#F47B20" stroke-width="2.2" fill="none"/>
<path d="M761.77 287.40 L766.37 292.00 M761.77 292.00 L766.37 287.40" stroke="#F47B20" stroke-width="2.2" fill="none"/>
<path d="M808.53 289.50 L813.13 294.10 M808.53 294.10 L813.13 289.50" stroke="#F47B20" stroke-width="2.2" fill="none"/>
<rect x="760.4" y="202.20" width="26.3" height="2.8" fill="#8E1B21"/>
<text x="789.6" y="208.10" font-size="10" fill="#222" font-family='"Liberation Sans", Arial, sans-serif'>T=0</text>
<rect x="760.4" y="216.50" width="26.3" height="2.8" fill="#D71A28"/>
<text x="789.6" y="222.40" font-size="10" fill="#222" font-family='"Liberation Sans", Arial, sans-serif'>T=0.001</text>
<rect x="760.4" y="230.80" width="26.3" height="2.8" fill="#EE3A24"/>
<text x="789.6" y="236.70" font-size="10" fill="#222" font-family='"Liberation Sans", Arial, sans-serif'>T=0.01</text>
<rect x="760.4" y="245.10" width="26.3" height="2.8" fill="#F47B20"/>
<text x="789.6" y="251.00" font-size="10" fill="#222" font-family='"Liberation Sans", Arial, sans-serif'>T=0.1</text>
<text x="486.50" y="298.80" text-anchor="end" font-size="15.7" fill="#2b2b2b" font-family='"Liberation Sans", Arial, sans-serif'>0</text>
<text x="489.10" y="238.82" text-anchor="end" font-size="15.7" fill="#2b2b2b" font-family='"Liberation Sans", Arial, sans-serif'>40</text>
<text x="489.10" y="178.85" text-anchor="end" font-size="15.7" fill="#2b2b2b" font-family='"Liberation Sans", Arial, sans-serif'>80</text>
<text x="491.00" y="118.87" text-anchor="end" font-size="15.7" fill="#2b2b2b" font-family='"Liberation Sans", Arial, sans-serif'>120</text>
<text x="491.60" y="58.90" text-anchor="end" font-size="15.7" fill="#2b2b2b" font-family='"Liberation Sans", Arial, sans-serif'>160</text>
<text x="481.10" y="312.6" font-size="15.2" fill="#2b2b2b" font-family='"Liberation Sans", Arial, sans-serif'>10<tspan dy="-6.6" dx="0.6" font-size="10.6">-2</tspan></text>
<text x="597.30" y="312.6" font-size="15.2" fill="#2b2b2b" font-family='"Liberation Sans", Arial, sans-serif'>10<tspan dy="-6.6" dx="0.6" font-size="10.6">-1</tspan></text>
<text x="714.40" y="312.6" font-size="15.2" fill="#2b2b2b" font-family='"Liberation Sans", Arial, sans-serif'>10<tspan dy="-6.6" dx="0.6" font-size="10.6">0</tspan></text>
<text x="832.50" y="312.6" font-size="15.2" fill="#2b2b2b" font-family='"Liberation Sans", Arial, sans-serif'>10<tspan dy="-6.6" dx="0.6" font-size="10.6">1</tspan></text>
<text x="622.30" y="326.20" font-size="15.75" fill="#2b2b2b" font-family='"Liberation Sans", Arial, sans-serif'>Lag time<tspan x="686.20" font-family='"Liberation Serif", "Times New Roman", serif' font-style="italic" font-size="18.43">ϑ</tspan><tspan x="700.90" font-family='"Liberation Serif", "Times New Roman", serif' font-size="17.64">(</tspan><tspan x="706.10" font-family='"Liberation Serif", "Times New Roman", serif' font-style="italic" font-size="16.54">s</tspan><tspan x="712.50" font-family='"Liberation Serif", "Times New Roman", serif' font-size="17.64">)</tspan></text>
<text transform="translate(457.6 224.4) rotate(-90)" font-size="15" fill="#2b2b2b" font-family='"Liberation Sans", Arial, sans-serif'>Irreversibility <tspan font-style="italic">σ</tspan> (<tspan font-style="italic">k</tspan><tspan font-style="italic" font-size="9" dy="3">B</tspan><tspan font-style="italic" dy="-3" dx="0.3">s</tspan><tspan font-size="9" dy="-6" dx="0.3">-1</tspan><tspan dy="6">)</tspan></text>
<text x="444" y="26.5" font-size="25" font-weight="bold" fill="#000" font-family='"Liberation Sans", Arial, sans-serif'>b</text>
<rect x="688.30" y="29.70" width="143.30" height="112.10" fill="#fff" stroke="#333" stroke-width="0.8"/>
<path d="M688.30 141.80 v-1.80 M688.30 29.70 v1.80 M702.68 141.80 v-1.00 M702.68 29.70 v1.00 M711.09 141.80 v-1.00 M711.09 29.70 v1.00 M717.06 141.80 v-1.00 M717.06 29.70 v1.00 M721.69 141.80 v-1.00 M721.69 29.70 v1.00 M725.47 141.80 v-1.00 M725.47 29.70 v1.00 M728.67 141.80 v-1.00 M728.67 29.70 v1.00 M731.44 141.80 v-1.00 M731.44 29.70 v1.00 M733.88 141.80 v-1.00 M733.88 29.70 v1.00 M736.07 141.80 v-1.80 M736.07 29.70 v1.80 M750.45 141.80 v-1.00 M750.45 29.70 v1.00 M758.86 141.80 v-1.00 M758.86 29.70 v1.00 M764.83 141.80 v-1.00 M764.83 29.70 v1.00 M769.45 141.80 v-1.00 M769.45 29.70 v1.00 M773.24 141.80 v-1.00 M773.24 29.70 v1.00 M776.43 141.80 v-1.00 M776.43 29.70 v1.00 M779.20 141.80 v-1.00 M779.20 29.70 v1.00 M781.65 141.80 v-1.00 M781.65 29.70 v1.00 M783.83 141.80 v-1.80 M783.83 29.70 v1.80 M798.21 141.80 v-1.00 M798.21 29.70 v1.00 M806.62 141.80 v-1.00 M806.62 29.70 v1.00 M812.59 141.80 v-1.00 M812.59 29.70 v1.00 M817.22 141.80 v-1.00 M817.22 29.70 v1.00 M821.00 141.80 v-1.00 M821.00 29.70 v1.00 M824.20 141.80 v-1.00 M824.20 29.70 v1.00 M826.97 141.80 v-1.00 M826.97 29.70 v1.00 M829.41 141.80 v-1.00 M829.41 29.70 v1.00 M831.60 141.80 v-1.80 M831.60 29.70 v1.80 " stroke="#333" stroke-width="0.55" fill="none"/>
<path d="M688.30 85.75 h2 M831.60 85.75 h-2 " stroke="#333" stroke-width="0.6" fill="none"/>
<clipPath id="clipJ"><rect x="688.30" y="28.70" width="143.30" height="113.50"/></clipPath><g clip-path="url(#clipJ)">
<path d="M688.30 29.90 L690.25 29.96 L692.20 30.03 L694.15 30.09 L696.10 30.15 L698.05 30.22 L700.00 30.30 L702.67 30.42 L705.35 30.55 L708.02 30.70 L710.69 30.87 L713.35 31.07 L716.00 31.30 L719.56 31.71 L723.16 32.27 L726.73 32.96 L730.26 33.79 L733.70 34.74 L737.00 35.80 L738.90 36.56 L740.80 37.51 L742.67 38.62 L744.45 39.84 L746.11 41.15 L747.60 42.50 L748.77 43.77 L749.88 45.18 L750.93 46.69 L751.90 48.28 L752.79 49.89 L753.60 51.50 L754.50 53.49 L755.32 55.54 L756.08 57.63 L756.79 59.75 L757.46 61.88 L758.10 64.00 L758.85 66.55 L759.58 69.12 L760.27 71.70 L760.91 74.29 L761.49 76.89 L762.00 79.50 L762.70 83.71 L763.31 87.95 L763.86 92.21 L764.37 96.48 L764.87 100.74 L765.40 105.00 L765.81 108.51 L766.18 112.04 L766.55 115.56 L766.95 119.08 L767.42 122.56 L768.00 126.00 L768.41 127.95 L768.90 129.94 L769.48 131.92 L770.16 133.83 L770.93 135.64 L771.80 137.30 L772.26 138.02 L772.82 138.77 L773.46 139.49 L774.14 140.13 L774.86 140.65 L775.60 141.00 L776.26 141.19 L776.97 141.33 L777.72 141.46 L778.48 141.57 L779.25 141.68 L780.00 141.80 L831.60 141.80" fill="none" stroke="#8E1B21" stroke-width="2.0" stroke-linejoin="round" stroke-linecap="butt" />
<path d="M688.30 47.50 L692.92 47.61 L697.54 47.70 L702.16 47.80 L706.77 47.91 L711.39 48.04 L716.00 48.20 L719.52 48.36 L723.05 48.57 L726.59 48.82 L730.10 49.14 L733.58 49.53 L737.00 50.00 L738.83 50.35 L740.69 50.84 L742.53 51.45 L744.32 52.16 L746.02 52.95 L747.60 53.80 L748.78 54.57 L749.96 55.49 L751.10 56.53 L752.14 57.66 L753.06 58.83 L753.80 60.00 L755.17 62.87 L756.32 66.00 L757.31 69.32 L758.19 72.72 L759.00 76.15 L759.80 79.50 L760.61 82.88 L761.37 86.29 L762.10 89.70 L762.77 93.13 L763.41 96.56 L764.00 100.00 L764.64 104.33 L765.18 108.70 L765.67 113.07 L766.19 117.42 L766.81 121.74 L767.60 126.00 L768.04 127.96 L768.55 129.95 L769.15 131.92 L769.83 133.84 L770.61 135.65 L771.50 137.30 L771.98 138.03 L772.55 138.77 L773.20 139.49 L773.91 140.14 L774.65 140.65 L775.40 141.00 L776.09 141.19 L776.83 141.34 L777.61 141.46 L778.42 141.57 L779.22 141.68 L780.00 141.80 L831.60 141.80" fill="none" stroke="#D71A28" stroke-width="2.0" stroke-linejoin="round" stroke-linecap="butt" />
<path d="M688.30 94.90 L693.58 94.94 L698.87 94.98 L704.15 95.02 L709.44 95.07 L714.72 95.12 L720.00 95.20 L722.50 95.25 L725.01 95.32 L727.51 95.41 L730.01 95.52 L732.51 95.65 L735.00 95.80 L737.55 96.00 L740.12 96.29 L742.70 96.66 L745.22 97.12 L747.67 97.67 L750.00 98.30 L751.35 98.82 L752.69 99.55 L754.00 100.43 L755.25 101.42 L756.43 102.46 L757.50 103.50 L758.37 104.44 L759.20 105.46 L760.00 106.55 L760.73 107.68 L761.40 108.84 L762.00 110.00 L762.50 111.11 L762.95 112.26 L763.37 113.43 L763.76 114.62 L764.14 115.81 L764.50 117.00 L765.12 119.24 L765.67 121.51 L766.19 123.79 L766.72 126.07 L767.31 128.31 L768.00 130.50 L768.57 132.11 L769.19 133.78 L769.88 135.43 L770.66 136.99 L771.52 138.37 L772.50 139.50 L773.09 139.96 L773.80 140.36 L774.58 140.73 L775.40 141.08 L776.22 141.43 L777.00 141.80 L831.60 141.80" fill="none" stroke="#EE3A24" stroke-width="2.0" stroke-linejoin="round" stroke-linecap="butt" />
<path d="M688.30 133.70 L695.25 133.74 L702.20 133.78 L709.15 133.82 L716.10 133.87 L723.05 133.92 L730.00 134.00 L733.34 134.05 L736.68 134.11 L740.02 134.20 L743.35 134.30 L746.68 134.44 L750.00 134.60 L752.02 134.75 L754.06 134.99 L756.09 135.30 L758.10 135.68 L760.08 136.11 L762.00 136.60 L763.03 136.96 L764.02 137.45 L765.01 138.01 L765.99 138.59 L766.98 139.14 L768.00 139.60 L768.97 139.99 L769.96 140.37 L770.96 140.74 L771.96 141.07 L772.98 141.33 L774.00 141.50 L774.66 141.57 L775.32 141.62 L775.99 141.67 L776.66 141.71 L777.33 141.75 L778.00 141.80 L831.60 141.80" fill="none" stroke="#F47B20" stroke-width="2.0" stroke-linejoin="round" stroke-linecap="butt" />
</g>
<text x="685.2" y="144.20" text-anchor="end" font-size="10.4" fill="#2b2b2b" font-family='"Liberation Sans", Arial, sans-serif'>0</text>
<text x="685.2" y="88.55" text-anchor="end" font-size="10.4" fill="#2b2b2b" font-family='"Liberation Sans", Arial, sans-serif'>25</text>
<text x="685.2" y="31.30" text-anchor="end" font-size="10.4" fill="#2b2b2b" font-family='"Liberation Sans", Arial, sans-serif'>50</text>
<text x="681.40" y="155.8" font-size="10.6" fill="#2b2b2b" font-family='"Liberation Sans", Arial, sans-serif'>10<tspan dy="-4.4" dx="0.3" font-size="7.4">-2</tspan></text>
<text x="729.17" y="155.8" font-size="10.6" fill="#2b2b2b" font-family='"Liberation Sans", Arial, sans-serif'>10<tspan dy="-4.4" dx="0.3" font-size="7.4">-1</tspan></text>
<text x="776.93" y="155.8" font-size="10.6" fill="#2b2b2b" font-family='"Liberation Sans", Arial, sans-serif'>10<tspan dy="-4.4" dx="0.3" font-size="7.4">0</tspan></text>
<text x="824.70" y="155.8" font-size="10.6" fill="#2b2b2b" font-family='"Liberation Sans", Arial, sans-serif'>10<tspan dy="-4.4" dx="0.3" font-size="7.4">1</tspan></text>
<text x="728.40" y="169.00" font-size="10.60" fill="#2b2b2b" font-family='"Liberation Sans", Arial, sans-serif'>Lag time<tspan x="771.82" font-family='"Liberation Serif", "Times New Roman", serif' font-style="italic" font-size="12.40">ϑ</tspan><tspan x="781.81" font-family='"Liberation Serif", "Times New Roman", serif' font-size="11.87">(</tspan><tspan x="785.34" font-family='"Liberation Serif", "Times New Roman", serif' font-style="italic" font-size="11.13">s</tspan><tspan x="789.69" font-family='"Liberation Serif", "Times New Roman", serif' font-size="11.87">)</tspan></text>
<text transform="translate(667.4 132) rotate(-90)" font-size="10" fill="#2b2b2b" font-family='"Liberation Sans", Arial, sans-serif'>Irreversibility <tspan font-style="italic">σ</tspan> (<tspan font-style="italic">k</tspan><tspan font-style="italic" font-size="6" dy="2">B</tspan><tspan font-style="italic" dy="-2" dx="0.5">s</tspan><tspan font-size="6" dy="-4" dx="0.5">-1</tspan><tspan dy="4">)</tspan></text>
</g>
</svg></body></html>
